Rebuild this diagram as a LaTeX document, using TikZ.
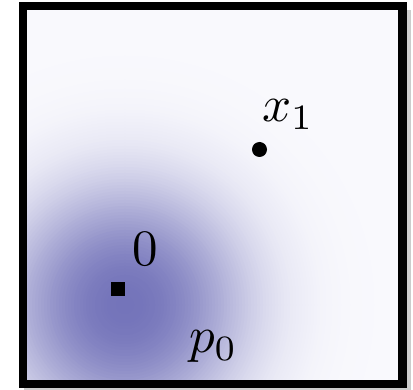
\documentclass[tikz,border=0pt]{standalone}
\usepackage{tikz}
\definecolor{bgc}{RGB}{249,249,253}
\definecolor{c0}{RGB}{116,116,186}
\tikzset{
  lbl/.style={inner sep=0pt, scale=5.1},
  dotpt/.style={fill=black, circle, inner sep=0pt, minimum size=15pt},
  sqpt/.style={fill=black, rectangle, inner sep=0pt, minimum size=14pt},
  frame/.style={draw=black, line width=8.5pt}
}
\begin{document}
\begin{tikzpicture}[x=1pt,y=-1pt]
\useasboundingbox (0,0) rectangle (413,390);
\fill[white] (0,0) rectangle (413,390);
% shadow
\fill[black!20] (406,10) rectangle (411,390);
\fill[black!20] (24,387) rectangle (411,390);
% background with soft blob
\begin{scope}
\clip (23,6) rectangle (402.5,384);
\fill[bgc] (23,6) rectangle (402.5,384);
\foreach \r in {330,327,...,3} {
  \pgfmathsetmacro\p{100*exp(-((\r/122)^2.4))}
  \fill[c0!\p!bgc] (125,305) circle[radius=\r];
}
\end{scope}
\draw[frame] (23,6) rectangle (402.5,384);
% points
\node[dotpt] (x1) at (259.5,149.5) {};
\node[sqpt] (o) at (117.5,289) {};
% labels
\node[lbl, anchor=base west] (x1l) at (261,122) {$x_1$};
\node[lbl, anchor=base west] (ol) at (131,266) {$0$};
\node[lbl, anchor=base west] (p0) at (188,353) {$p_0$};
\end{tikzpicture}
\end{document}
